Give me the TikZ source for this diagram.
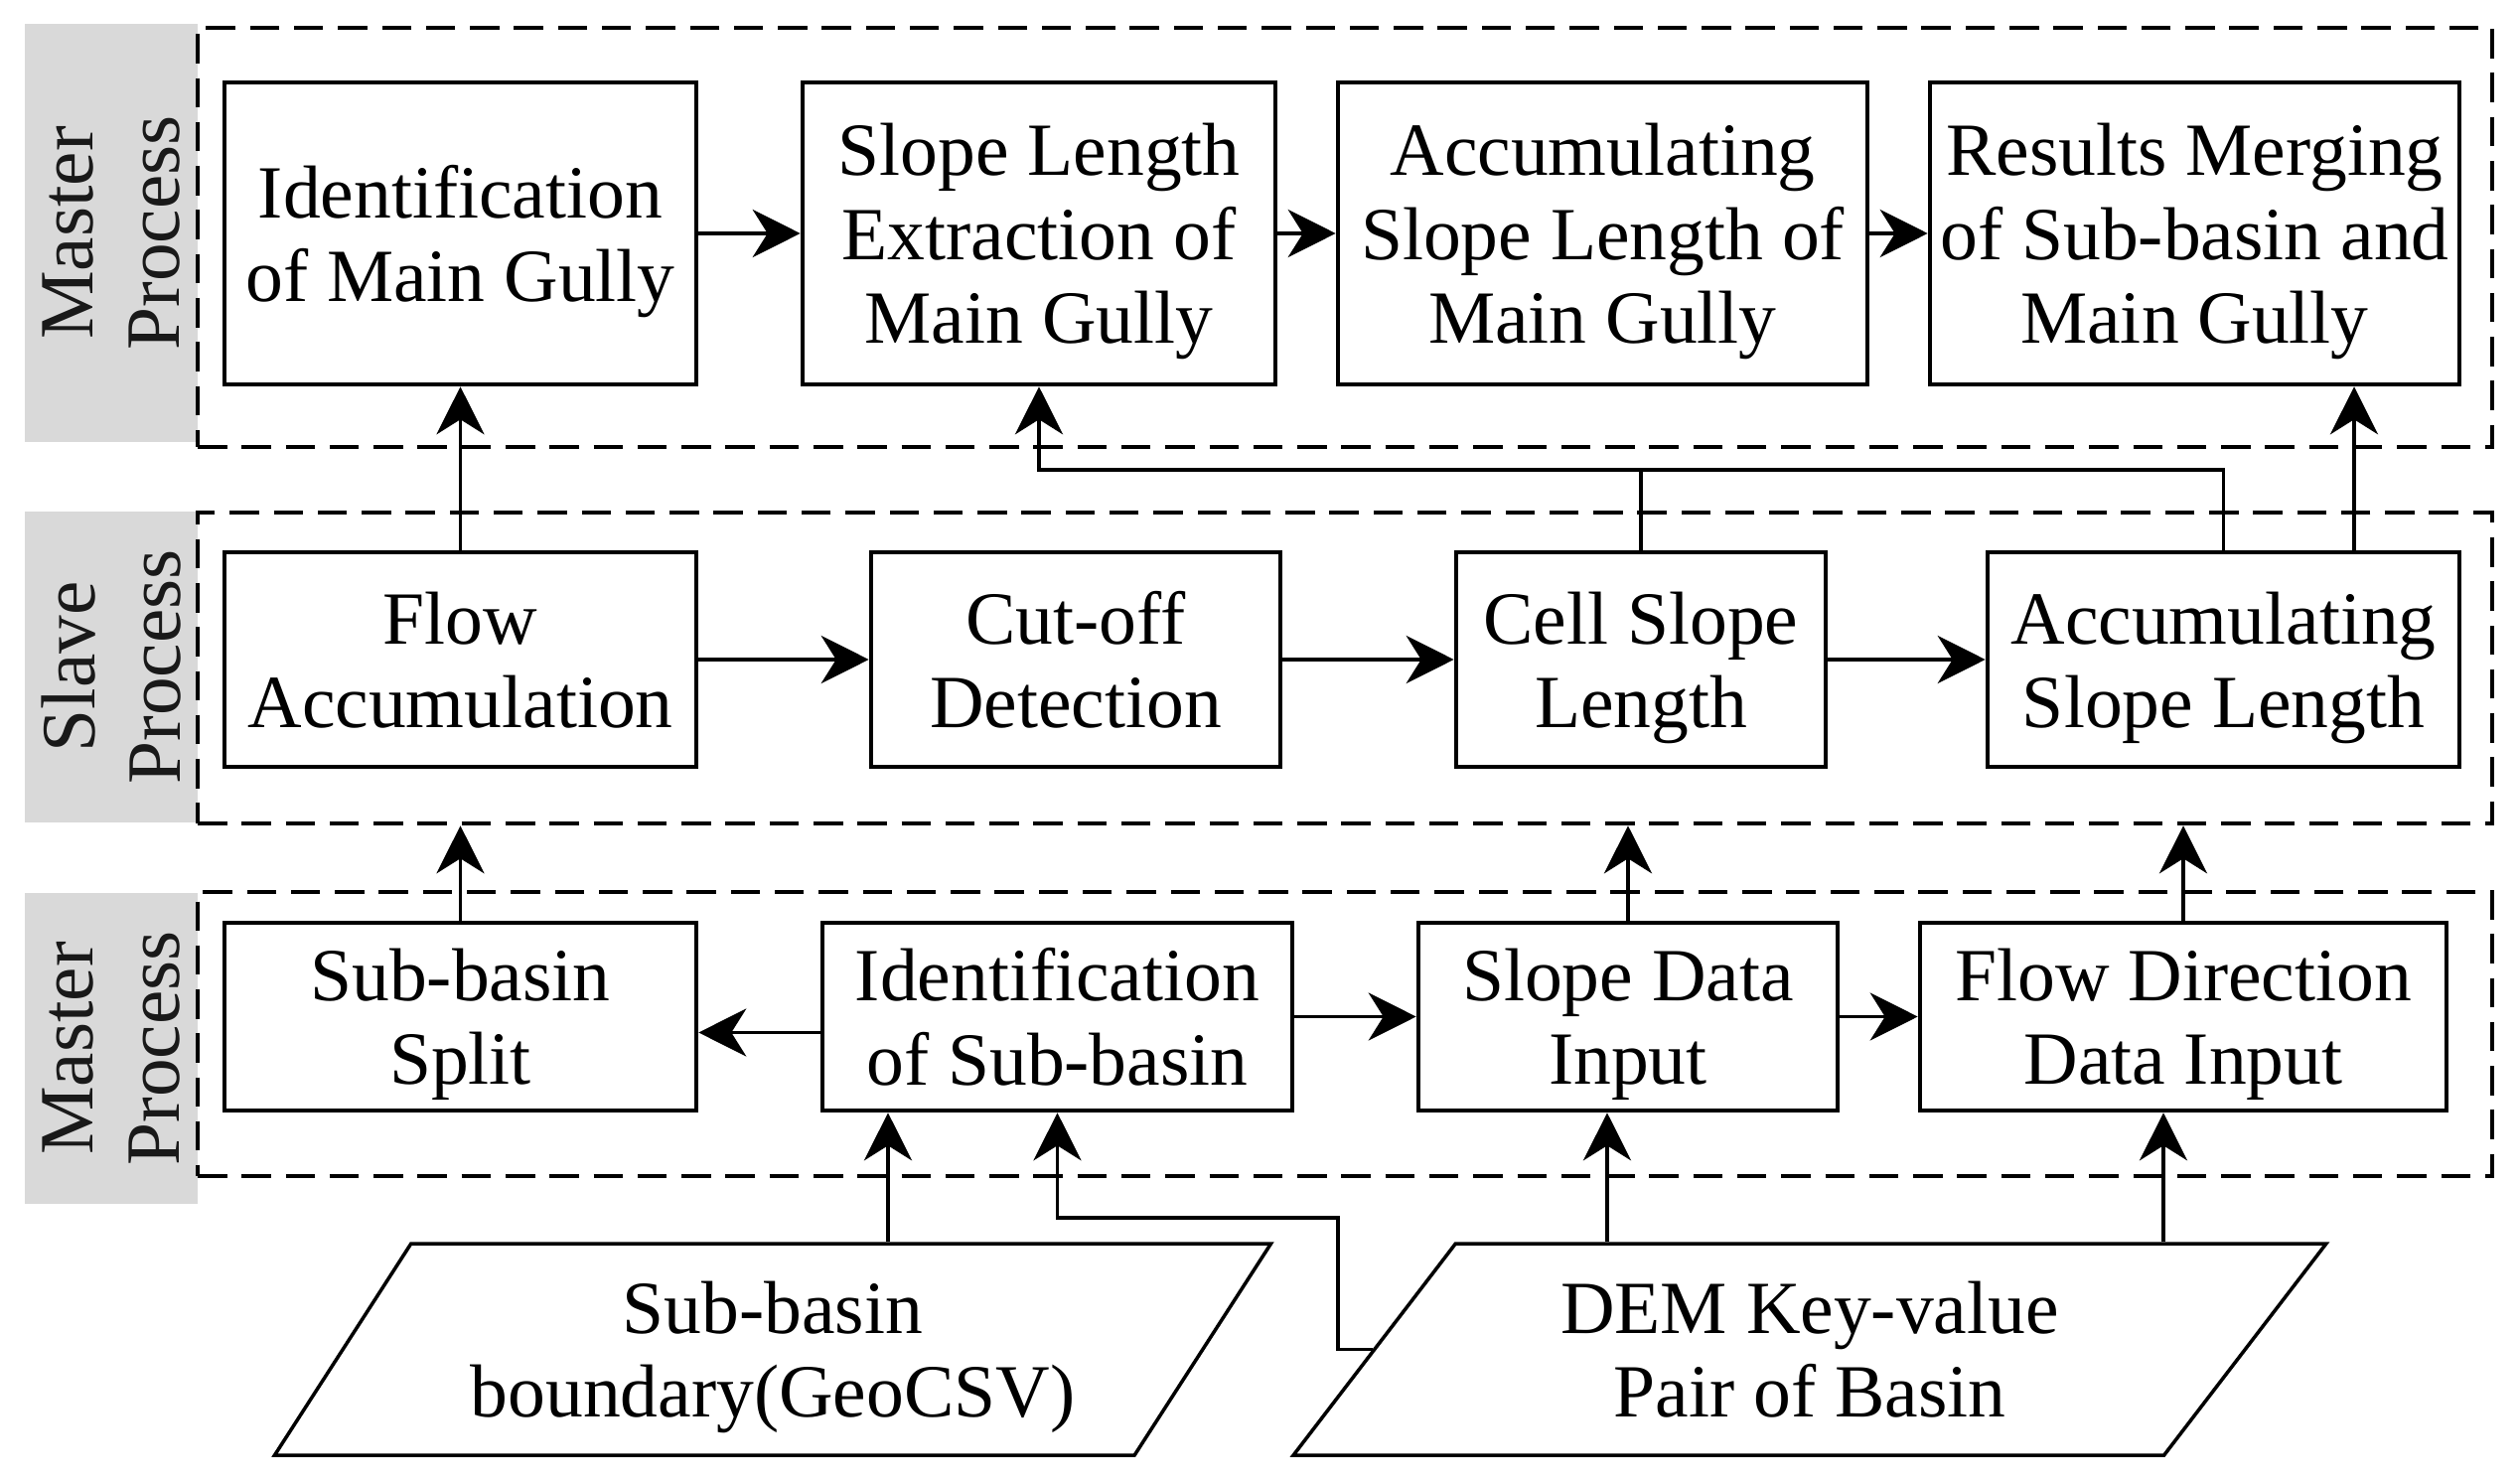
\documentclass[tikz,border=0pt]{standalone}
\usepackage{fontspec}
\setmainfont{Liberation Serif}
\usetikzlibrary{arrows.meta,positioning,shapes.geometric}

\begin{document}
\begin{tikzpicture}[font=\fontsize{21.5}{24}\selectfont,
  proc/.style={draw,line width=1.3pt,align=center,inner sep=0pt,text depth=0pt},
  grp/.style={draw,dash pattern=on 8.4pt off 4.2pt,line width=1.3pt,inner sep=0pt},
  lane/.style={fill=black!15,rotate=90,align=center,inner sep=0pt,text=black!90,font=\fontsize{22}{24.7}\selectfont},
  io/.style={draw,line width=1pt,trapezium,trapezium left angle=50,trapezium right angle=130,trapezium stretches=true,align=center,inner sep=0pt,text depth=0pt},
  arr/.style={line width=1.1pt,-{Stealth[length=4.8mm,width=4.8mm,inset=1.5mm]}},
  ln/.style={line width=1.1pt}]
\useasboundingbox (0,0) rectangle (25.37,-14.93);
\node[lane,minimum width=4.21cm,minimum height=1.74cm] (lanetop) at (1.12,-2.345) {Master\\Process};
\node[lane,minimum width=3.13cm,minimum height=1.74cm] (lanemid) at (1.12,-6.715) {Slave\\Process};
\node[lane,minimum width=3.13cm,minimum height=1.74cm] (lanebot) at (1.12,-10.555) {Master\\Process};
\node[grp,minimum width=23.10cm,minimum height=4.22cm] (gtop) at (13.54,-2.39) {};
\node[grp,minimum width=23.10cm,minimum height=3.13cm] (gmid) at (13.54,-6.725) {};
\node[grp,minimum width=23.10cm,minimum height=2.86cm] (gbot) at (13.54,-10.41) {};
\node[proc,minimum width=4.75cm,minimum height=3.04cm] (identmg) at (4.635,-2.35) {Identification\\of Main Gully};
\node[proc,minimum width=4.76cm,minimum height=3.04cm] (slopeext) at (10.46,-2.35) {Slope Length\\Extraction of\\Main Gully};
\node[proc,minimum width=5.33cm,minimum height=3.04cm] (accmg) at (16.135,-2.35) {Accumulating\\Slope Length of\\Main Gully};
\node[proc,minimum width=5.33cm,minimum height=3.04cm] (merge) at (22.095,-2.35) {Results Merging\\of Sub-basin and\\Main Gully};
\node[proc,minimum width=4.75cm,minimum height=2.16cm] (flowacc) at (4.635,-6.64) {Flow\\Accumulation};
\node[proc,minimum width=4.12cm,minimum height=2.16cm] (cutoff) at (10.83,-6.64) {Cut-off\\Detection};
\node[proc,minimum width=3.72cm,minimum height=2.16cm] (cell) at (16.52,-6.64) {Cell Slope\\Length};
\node[proc,minimum width=4.75cm,minimum height=2.16cm] (accsl) at (22.385,-6.64) {Accumulating\\Slope Length};
\node[proc,minimum width=4.75cm,minimum height=1.89cm] (split) at (4.635,-10.235) {Sub-basin\\Split};
\node[proc,minimum width=4.73cm,minimum height=1.89cm] (identsb) at (10.645,-10.235) {Identification\\of Sub-basin};
\node[proc,minimum width=4.22cm,minimum height=1.89cm] (slopedata) at (16.39,-10.235) {Slope Data\\Input};
\node[proc,minimum width=5.30cm,minimum height=1.89cm] (flowdir) at (21.98,-10.235) {Flow Direction\\Data Input};
\node[io,minimum width=10.06cm,minimum height=2.13cm] (subb) at (7.78,-13.585) {Sub-basin\\boundary(GeoCSV)};
\node[io,minimum width=10.40cm,minimum height=2.13cm] (dem) at (18.22,-13.585) {DEM Key-value\\Pair of Basin};
\draw[arr] (identmg.east) -- (slopeext.west);
\draw[arr] (slopeext.east) -- (accmg.west);
\draw[arr] (accmg.east) -- (merge.west);
\draw[arr] (flowacc.north) -- (identmg.south);
\draw[arr] (flowacc.east) -- (cutoff.west);
\draw[arr] (cutoff.east) -- (cell.west);
\draw[arr] (cell.east) -- (accsl.west);
\coordinate (fb) at (0,-4.73);
\draw[ln] (accsl.north) -- (accsl.north |- fb) -- (cell.north |- fb);
\draw[arr] (cell.north) -- (cell.north |- fb) -| (slopeext.south);
\draw[arr] ([xshift=13.15mm]accsl.north) -- ([xshift=13.15mm]accsl.north |- merge.south);
\draw[arr] (split.north) -- (split.north |- gmid.south);
\draw[arr] (slopedata.north) -- (slopedata.north |- gmid.south);
\draw[arr] (flowdir.north) -- (flowdir.north |- gmid.south);
\draw[arr] ([yshift=-1.6mm]identsb.west) -- ([yshift=-1.6mm]identsb.west -| split.east);
\draw[arr] (identsb.east) -- (slopedata.west);
\draw[arr] (slopedata.east) -- (flowdir.west);
\coordinate (sbx) at ([xshift=-17.05mm]identsb.south);
\draw[arr] (subb.north -| sbx) -- (sbx);
\coordinate (elb) at (13.47,-12.26);
\draw[arr] (dem.west) -| (elb) -| (identsb.south);
\draw[arr] ([xshift=-2.1mm]slopedata.south |- dem.north) -- ([xshift=-2.1mm]slopedata.south);
\draw[arr] ([xshift=-2mm]flowdir.south |- dem.north) -- ([xshift=-2mm]flowdir.south);
\end{tikzpicture}
\end{document}
